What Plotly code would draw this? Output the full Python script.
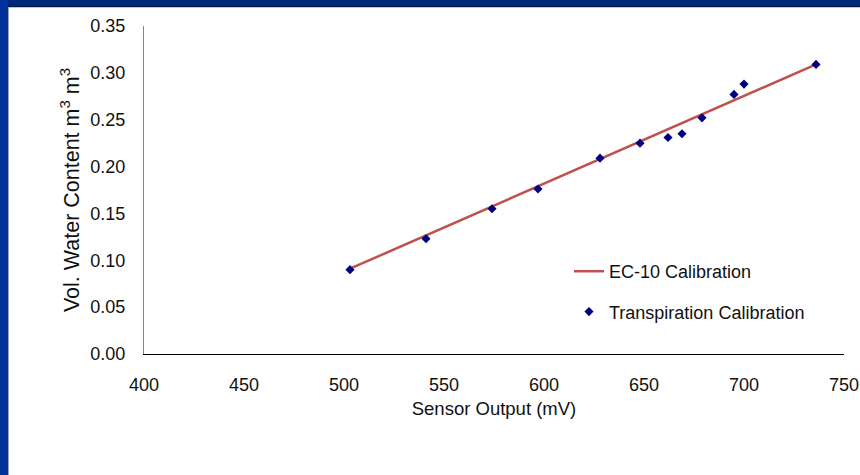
import plotly.graph_objects as go

# Transpiration-based calibration readings
sensor_mv = [503, 541, 574, 597, 628, 648, 662, 669, 679, 695, 700, 736]
vwc = [0.090, 0.123, 0.155, 0.176, 0.209, 0.225, 0.231, 0.235, 0.252, 0.277, 0.288, 0.309]

# Manufacturer EC-10 calibration line (end points)
calib_mv = [503, 736]
calib_vwc = [0.091, 0.309]

x_ticks = [400, 450, 500, 550, 600, 650, 700, 750]
y_ticks = [0.00, 0.05, 0.10, 0.15, 0.20, 0.25, 0.30, 0.35]

W, H = 860, 475
ML, MR, MT, MB = 144, 16, 26, 121
PW, PH = W - ML - MR, H - MT - MB

def px(x):
    return (x - ML) / PW

def py(y):
    return (H - MB - y) / PH

FONT = "Liberation Sans, Arial, sans-serif"

fig = go.Figure()
fig.add_trace(go.Scatter(
    x=calib_mv, y=calib_vwc, mode="lines", name="EC-10 Calibration",
    line=dict(color="#C0504D", width=2.5), legendgroup="a",
))
fig.add_trace(go.Scatter(
    x=sensor_mv, y=vwc, mode="markers", name="Transpiration Calibration",
    marker=dict(symbol="diamond", size=7, color="#000080"), legendgroup="b",
))

# Slide frame: blue bars along the top and left edges
shapes = [
    dict(type="rect", xref="paper", yref="paper", x0=px(0), x1=px(W), y0=py(0), y1=py(7),
         fillcolor="#00297C", line_width=0, layer="above"),
    dict(type="line", xref="paper", yref="paper", x0=px(8), x1=px(W), y0=py(6.5), y1=py(6.5),
         line=dict(color="#001845", width=1.5), layer="above"),
    dict(type="rect", xref="paper", yref="paper", x0=px(0), x1=px(8), y0=py(0), y1=py(H),
         fillcolor="#03319A", line_width=0, layer="above"),
    dict(type="line", xref="paper", yref="paper", x0=px(8.5), x1=px(8.5), y0=py(7), y1=py(H),
         line=dict(color="#9AA3B8", width=1), layer="above"),
]

fig.update_layout(
    width=W, height=H, autosize=False,
    margin=dict(l=ML, r=MR, t=MT, b=MB, autoexpand=False),
    paper_bgcolor="white", plot_bgcolor="white",
    font=dict(family=FONT, size=18, color="#111111"),
    showlegend=True,
    legend=dict(x=px(569), y=py(253), xanchor="left", yanchor="top",
                bgcolor="rgba(0,0,0,0)", tracegroupgap=14,
                font=dict(size=18, color="#111111")),
    shapes=shapes,
    xaxis=dict(
        range=[400, 750], tickvals=x_ticks, ticktext=[str(v) for v in x_ticks],
        showgrid=False, zeroline=False, showline=True, linecolor="#000000", linewidth=1.2,
        ticks="", ticklabelstandoff=14, automargin=False,
        title=dict(text="Sensor Output (mV)", standoff=8, font=dict(size=18.5)),
    ),
    yaxis=dict(
        range=[0, 0.35], tickvals=y_ticks, ticktext=[f"{v:.2f}" for v in y_ticks],
        showgrid=False, zeroline=False, showline=True, linecolor="#868686", linewidth=1,
        ticks="", ticklabelstandoff=14, automargin=False,
        title=dict(text="Vol. Water Content m<sup>3</sup> m<sup>3</sup>", standoff=4,
                   font=dict(size=21.5)),
    ),
)

fig.write_html("out.html", config={"displayModeBar": False})
